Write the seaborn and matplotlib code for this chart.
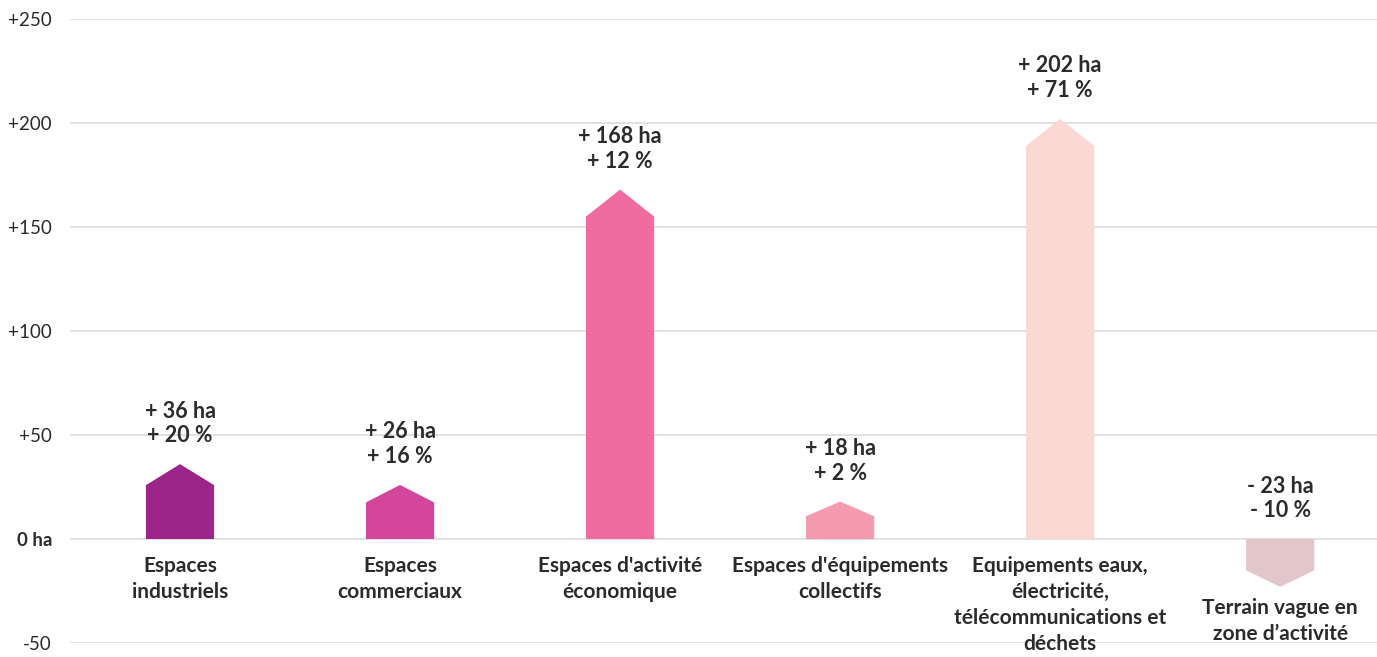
import matplotlib
matplotlib.use("Agg")
import matplotlib.pyplot as plt
import seaborn as sns
import pandas as pd

# values (ha)
categories = [
    "Espaces\nindustriels",
    "Espaces\ncommerciaux",
    "Espaces d'activité\néconomique",
    "Espaces d'équipements\ncollectifs",
    "Equipements eaux,\nélectricité,\ntélécommunications et\ndéchets",
    "Terrain vague en\nzone d’activité",
]
values_ha = [36, 26, 168, 18, 202, -23]
values_pct = [20, 16, 12, 2, 71, -10]
colors = ["#9c2589", "#d4469c", "#f06b9f", "#f49bb0", "#fcd8d5", "#e3c6c9"]
yticks = [-50, 0, 50, 100, 150, 200, 250]

df = pd.DataFrame({"cat": categories, "ha": values_ha})

sns.set_theme(style="white")
plt.rcParams["font.family"] = ["Lato", "DejaVu Sans"]
text_color = "#2b2b2b"

fig = plt.figure(figsize=(13.77, 6.57), dpi=100)
ax = fig.add_axes([70 / 1377, (657 - 643) / 657, 1 - 70 / 1377, (643 - 19) / 657])

sns.barplot(data=df, x="cat", y="ha", hue="cat", palette=colors, legend=False,
            width=0.31, ax=ax)

# turn each bar into an arrow shape (body + pointed head)
for patch, v, c in zip(ax.patches, values_ha, colors):
    x0 = patch.get_x()
    w = patch.get_width()
    patch.set_visible(False)
    head = min(13, 4 + 0.17 * abs(v))
    sign = 1 if v >= 0 else -1
    shoulder = v - sign * head
    xs = [x0, x0, x0 + w / 2, x0 + w, x0 + w]
    ys = [0, shoulder, v, shoulder, 0]
    ax.fill(xs, ys, color=c, lw=0, zorder=3)

for i, (v, p) in enumerate(zip(values_ha, values_pct)):
    s = "+ " if v >= 0 else "- "
    label = f"{s}{abs(v)} ha\n{s}{abs(p)} %"
    ax.annotate(label, (i, max(v, 0)), xytext=(0, 13),
                textcoords="offset points", ha="center", va="bottom",
                fontsize=15.5, fontweight="bold", color=text_color, linespacing=1.2)
    ax.annotate(categories[i], (i, min(v, 0)), xytext=(0, -12 if v >= 0 else -8),
                textcoords="offset points", ha="center", va="top", fontsize=15,
                fontweight="bold", color=text_color, linespacing=1.38)

ax.set_ylim(-50, 250)
ax.set_xlim(-0.5, 5.44)
ax.set_yticks(yticks)
ax.set_yticklabels([f"+{t}" if t > 0 else ("0 ha" if t == 0 else str(t)) for t in yticks])
for lab in ax.get_yticklabels():
    lab.set_color(text_color)
    lab.set_fontsize(13.5)
    if lab.get_text() == "0 ha":
        lab.set_fontweight("bold")
ax.tick_params(axis="y", length=0, pad=13)
ax.set_xticks([])
ax.set_xlabel("")
ax.set_ylabel("")
ax.grid(axis="y", color="#d9d9d9", lw=1.1)
ax.set_axisbelow(True)
sns.despine(ax=ax, left=True, bottom=True)

fig.savefig("out.png", dpi=100)
